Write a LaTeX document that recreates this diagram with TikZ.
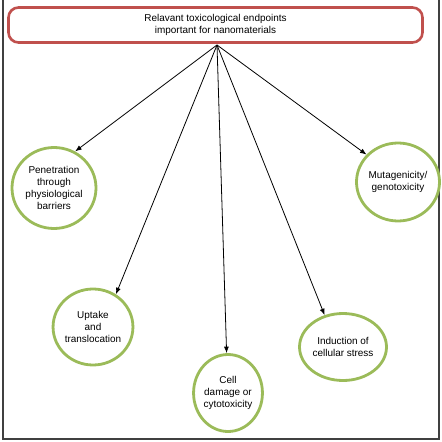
\documentclass[tikz,border=0pt]{standalone}
\usepackage{fontspec}
\setmainfont{Liberation Sans}
\usetikzlibrary{shapes.geometric,arrows.meta}
\definecolor{boxred}{HTML}{C0504D}
\definecolor{circgreen}{HTML}{9BBB59}
\definecolor{framegray}{HTML}{404040}
\begin{document}
\begin{tikzpicture}[x=1bp,y=-1bp,
  topbox/.style={draw=boxred,line width=2.6bp,rounded corners=10bp,minimum width=414bp,minimum height=35bp,inner sep=0pt,align=center,font=\fontsize{10}{12.5}\selectfont},
  endpoint/.style={draw=circgreen,line width=2.8bp,ellipse,inner sep=0pt,align=center,font=\fontsize{10}{12.3}\selectfont},
  link/.style={line width=0.8bp,-{Latex[length=6.5bp,width=5bp]}},
  frameline/.style={draw=framegray,line width=1.2bp}]
\useasboundingbox (0,0) rectangle (442,442);
% frame
\draw[frameline] (3,0) -- (3,439) -- (439,439) -- (439,0);
% top box
\node[topbox] (top) at (215.5,25) {Relavant toxicological endpoints\\important for nanomaterials};
\coordinate (src) at (217,45);
% endpoints
\node[endpoint,minimum width=84bp,minimum height=81bp] (pen) at (54,188) {Penetration\\through\\physiological\\barriers};
\node[endpoint,minimum width=70bp,minimum height=76bp] (upt) at (93,327) {Uptake\\and\\translocation};
\node[endpoint,minimum width=67bp,minimum height=77bp] (cell) at (228,393) {Cell\\damage or\\cytotoxicity};
\node[endpoint,minimum width=87bp,minimum height=67bp] (ind) at (343,347) {Induction of\\cellular stress};
\node[endpoint,minimum width=70bp,minimum height=78bp] (mut) at (398,182) {Mutagenicity/\\genotoxicity};
% connectors
\draw[link] (src) -- (pen.60);
\draw[link] (src) -- (upt.55);
\draw[link] (src) -- (cell.92);
\draw[link] (src) -- (ind.120);
\draw[link] (src) -- (mut.139);
\end{tikzpicture}
\end{document}
